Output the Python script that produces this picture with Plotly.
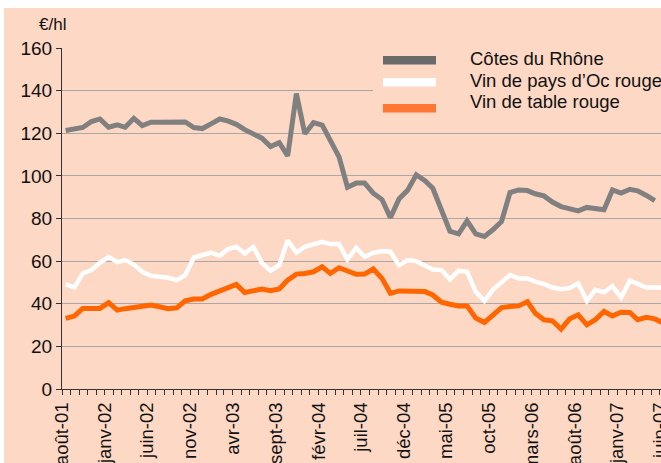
import pandas as pd
import plotly.graph_objects as go

# ---- data (€/hl, monthly from août-01) ----
cotes_du_rhone = [121.3, 121.9, 122.7, 125.5, 126.7, 122.8, 123.9, 122.8, 127.0, 123.6,
                  125.2, 125.2, 125.2, 125.0, 125.3, 122.7, 122.2, 124.4, 126.7, 125.8,
                  124.2, 121.7, 119.6, 117.7, 113.8, 115.6, 109.4, 138.6, 119.8, 125.0,
                  123.8, 116.9, 108.9, 94.7, 96.6, 96.6, 91.9, 88.9, 80.4, 89.3,
                  93.2, 100.5, 97.7, 94.2, 83.6, 74.0, 72.8, 78.9, 72.8, 71.6,
                  74.7, 78.6, 92.2, 93.4, 93.1, 91.6, 90.6, 87.7, 85.6, 84.4,
                  83.6, 85.2, 84.8, 84.1, 93.4, 91.9, 93.7, 93.0, 90.8, 88.4]
vin_pays_oc = [49.1, 47.7, 54.2, 55.8, 59.2, 62.0, 59.5, 60.5, 58.4, 55.0,
               53.1, 52.7, 52.2, 51.1, 53.4, 61.7, 62.8, 64.0, 62.5, 65.5,
               66.7, 63.6, 66.7, 59.2, 55.5, 58.1, 69.8, 64.0, 66.7, 68.0,
               69.0, 68.0, 68.0, 60.8, 66.3, 62.0, 63.9, 64.7, 64.4, 58.1,
               60.5, 60.0, 58.1, 56.1, 55.8, 51.4, 55.5, 55.0, 45.7, 41.3,
               46.5, 50.4, 53.5, 51.9, 51.9, 50.4, 49.3, 47.6, 46.8, 47.3,
               49.6, 41.3, 46.5, 45.4, 48.3, 42.9, 50.8, 49.3, 47.6, 47.6, 47.6]
vin_table = [33.1, 34.2, 37.8, 37.8, 37.8, 40.5, 37.0, 37.7, 38.3, 38.9,
             39.4, 38.6, 37.7, 38.1, 41.4, 42.2, 42.2, 44.4, 46.1, 47.7,
             49.1, 45.3, 46.4, 46.9, 46.1, 46.9, 51.1, 53.9, 54.2, 55.0,
             57.3, 54.2, 56.9, 55.5, 53.8, 53.9, 56.3, 51.9, 44.9, 46.0,
             46.0, 46.2, 45.7, 44.1, 40.7, 39.8, 39.0, 39.0, 33.3, 31.2,
             34.8, 38.2, 38.7, 39.0, 41.0, 35.6, 32.5, 32.0, 28.1, 32.8,
             34.8, 30.1, 32.5, 36.4, 34.3, 36.0, 35.9, 32.5, 33.6, 32.9, 30.9]
series_names = ["Côtes du Rhône", "Vin de pays d’Oc rouge", "Vin de table rouge"]
tick_labels = ["août-01", "janv-02", "juin-02", "nov-02", "avr-03", "sept-03", "févr-04",
               "juil-04", "déc-04", "mai-05", "oct-05", "mars-06", "août-06", "janv-07", "juin-07"]

months = pd.date_range("2001-08-01", periods=len(vin_table), freq="MS") + pd.Timedelta(days=13)
tick_dates = pd.date_range("2001-08-01", periods=len(tick_labels), freq="5MS")

PEACH = "#FDD8C4"
FONT = "Liberation Sans, Arial, sans-serif"

fig = go.Figure()
fig.add_trace(go.Scatter(x=months[:len(cotes_du_rhone)], y=cotes_du_rhone, mode="lines",
                         line=dict(color="#808080", width=5), name=series_names[0]))
fig.add_trace(go.Scatter(x=months, y=vin_pays_oc, mode="lines",
                         line=dict(color="#FFFFFF", width=4.5), name=series_names[1]))
fig.add_trace(go.Scatter(x=months, y=vin_table, mode="lines",
                         line=dict(color="#FF6600", width=5), name=series_names[2]))

W, H = 661, 463
L, R, T, B = 62, 0, 48, 74
pw, ph = W - L - R, H - T - B


def px(xp):
    return (xp - L) / pw


def py(yp):
    return (H - B - yp) / ph


shapes = [
    # peach chart area (white strip at top and left)
    dict(type="rect", xref="paper", yref="paper", x0=px(4), x1=px(W + 5), y0=py(H + 5), y1=py(8),
         fillcolor=PEACH, line=dict(width=0), layer="below"),
    # legend box covering gridlines
    dict(type="rect", xref="paper", yref="paper", x0=px(373), x1=px(W + 5), y0=py(120), y1=py(38),
         fillcolor=PEACH, line=dict(width=0), layer="above"),
    # legend swatches
    dict(type="rect", xref="paper", yref="paper", x0=px(383), x1=px(436), y0=py(64.5), y1=py(56),
         fillcolor="#6A6A6A", line=dict(width=0), layer="above"),
    dict(type="rect", xref="paper", yref="paper", x0=px(383), x1=px(436), y0=py(86.5), y1=py(78),
         fillcolor="#FFFFFF", line=dict(width=0), layer="above"),
    dict(type="rect", xref="paper", yref="paper", x0=px(383), x1=px(436), y0=py(112.5), y1=py(104),
         fillcolor="#FF7733", line=dict(width=0), layer="above"),
]

annotations = [
    dict(text="€/hl", xref="paper", yref="paper", x=px(37), y=py(24), xanchor="left", yanchor="middle",
         showarrow=False, font=dict(size=17, color="#111111", family=FONT)),
]
for name, yc in zip(series_names, [58.5, 80, 101.5]):
    annotations.append(dict(text=name, xref="paper", yref="paper", x=px(468), y=py(yc),
                            xanchor="left", yanchor="middle", showarrow=False,
                            font=dict(size=18.5, color="#111111", family=FONT)))

fig.update_layout(
    width=W, height=H,
    margin=dict(l=L, r=R, t=T, b=B, pad=0),
    paper_bgcolor="white", plot_bgcolor="rgba(0,0,0,0)",
    showlegend=False,
    font=dict(family=FONT, color="#111111"),
    shapes=shapes, annotations=annotations,
)
fig.update_xaxes(
    range=["2001-08-01", "2007-06-05"],
    tickmode="array", tickvals=tick_dates, ticktext=tick_labels,
    tickangle=-90, tickfont=dict(size=18.5, family=FONT, color="#111111"),
    ticklabeloverflow="allow",
    ticks="outside", ticklen=5, tickcolor="#333333", tickwidth=1,
    minor=dict(tickmode="linear", tick0="2001-08-01", dtick="M1", ticks="outside",
               ticklen=5, tickcolor="#333333", tickwidth=1, showgrid=False),
    showline=True, linecolor="#333333", linewidth=1,
    showgrid=False, zeroline=False, automargin=False,
)
fig.update_yaxes(
    range=[0, 160], tickmode="linear", tick0=0, dtick=20,
    tickfont=dict(size=19, family=FONT, color="#111111"),
    ticks="outside", ticklen=5, tickcolor="#333333", tickwidth=1,
    showline=True, linecolor="#333333", linewidth=1,
    showgrid=True, gridcolor="#A8A8A8", gridwidth=1,
    zeroline=False, automargin=False,
)

fig.write_html(
    "out.html",
    config={"displayModeBar": False},
    post_script="document.body.style.margin='0';document.body.style.overflow='hidden';",
)
